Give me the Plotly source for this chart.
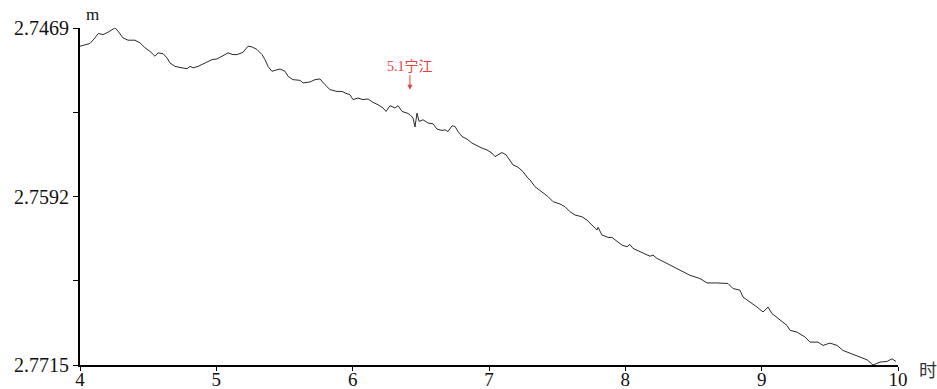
import plotly.graph_objects as go

# time (hours) and water level (m)
hours = [4.000, 4.037, 4.073, 4.110, 4.134, 4.169, 4.205, 4.257, 4.279, 4.315,
         4.352, 4.403, 4.440, 4.477, 4.513, 4.550, 4.572, 4.609, 4.638, 4.660,
         4.697, 4.748, 4.785, 4.807, 4.829, 4.866, 4.917, 4.968, 5.005, 5.042,
         5.086, 5.122, 5.152, 5.196, 5.232, 5.262, 5.298, 5.335, 5.357, 5.379,
         5.408, 5.430, 5.467, 5.504, 5.526, 5.562, 5.614, 5.636, 5.687, 5.724,
         5.760, 5.797, 5.834, 5.885, 5.922, 5.944, 5.980, 6.003, 6.039, 6.076,
         6.113, 6.149, 6.186, 6.223, 6.245, 6.274, 6.311, 6.333, 6.362, 6.399,
         6.421, 6.443, 6.457, 6.472, 6.487, 6.516, 6.553, 6.589, 6.619, 6.655,
         6.677, 6.699, 6.729, 6.751, 6.773, 6.802, 6.839, 6.875, 6.912, 6.949,
         6.985, 7.022, 7.044, 7.066, 7.095, 7.125, 7.154, 7.176, 7.213, 7.249,
         7.286, 7.301, 7.337, 7.389, 7.433, 7.470, 7.521, 7.558, 7.594, 7.631,
         7.682, 7.719, 7.756, 7.792, 7.800, 7.829, 7.851, 7.873, 7.902, 7.939,
         7.976, 8.012, 8.034, 8.056, 8.093, 8.144, 8.181, 8.203, 8.232, 8.306,
         8.401, 8.474, 8.548, 8.599, 8.672, 8.753, 8.790, 8.841, 8.863, 8.915,
         8.966, 9.010, 9.047, 9.076, 9.135, 9.186, 9.208, 9.259, 9.318, 9.355,
         9.413, 9.450, 9.501, 9.553, 9.597, 9.663, 9.721, 9.773, 9.817, 9.868,
         9.919, 9.956, 9.985]

level = [2.74823, 2.74811, 2.74803, 2.74762, 2.74730, 2.74738, 2.74721, 2.74689, 2.74713, 2.74762,
         2.74779, 2.74779, 2.74798, 2.74835, 2.74860, 2.74896, 2.74872, 2.74877, 2.74908, 2.74945,
         2.74970, 2.74981, 2.74987, 2.74970, 2.74981, 2.74970, 2.74945, 2.74921, 2.74916, 2.74896,
         2.74872, 2.74884, 2.74884, 2.74867, 2.74823, 2.74828, 2.74847, 2.74884, 2.74921, 2.74970,
         2.75006, 2.74999, 2.74989, 2.75006, 2.75043, 2.75067, 2.75072, 2.75091, 2.75084, 2.75067,
         2.75062, 2.75104, 2.75140, 2.75153, 2.75153, 2.75164, 2.75177, 2.75213, 2.75201, 2.75213,
         2.75208, 2.75233, 2.75250, 2.75274, 2.75299, 2.75257, 2.75274, 2.75257, 2.75299, 2.75311,
         2.75323, 2.75347, 2.75413, 2.75311, 2.75372, 2.75360, 2.75384, 2.75389, 2.75428, 2.75438,
         2.75433, 2.75446, 2.75404, 2.75409, 2.75446, 2.75482, 2.75501, 2.75530, 2.75550, 2.75567,
         2.75580, 2.75604, 2.75629, 2.75616, 2.75599, 2.75616, 2.75653, 2.75689, 2.75706, 2.75738,
         2.75787, 2.75799, 2.75848, 2.75885, 2.75921, 2.75958, 2.75975, 2.75995, 2.76031, 2.76055,
         2.76068, 2.76092, 2.76129, 2.76165, 2.76145, 2.76202, 2.76209, 2.76219, 2.76219, 2.76244,
         2.76275, 2.76287, 2.76270, 2.76299, 2.76317, 2.76336, 2.76356, 2.76348, 2.76372, 2.76409,
         2.76458, 2.76495, 2.76519, 2.76551, 2.76551, 2.76555, 2.76592, 2.76604, 2.76654, 2.76690,
         2.76727, 2.76763, 2.76727, 2.76775, 2.76824, 2.76861, 2.76897, 2.76910, 2.76946, 2.76983,
         2.76983, 2.77007, 2.76990, 2.77007, 2.77044, 2.77068, 2.77093, 2.77112, 2.77150, 2.77129,
         2.77124, 2.77105, 2.77124]

x_ticks = [4, 5, 6, 7, 8, 9, 10]
y_ticks = [2.7469, 2.7592, 2.7715]
y_tick_labels = ["2.7469", "2.7592", "2.7715"]
y_minor = [2.75305, 2.76535]

event_x = 6.42
event_y = 2.7514
event_label = "5.1宁江"

serif = "Liberation Serif"

fig = go.Figure()
fig.add_trace(go.Scatter(x=hours, y=level, mode="lines",
                         line=dict(color="#2a2a2a", width=1), hoverinfo="skip"))

fig.update_layout(
    width=937, height=389,
    margin=dict(l=80, r=39, t=28, b=24),
    paper_bgcolor="white", plot_bgcolor="white",
    showlegend=False,
    font=dict(family=serif, size=20, color="#111"),
    xaxis=dict(range=[4, 10], tickvals=x_ticks, ticktext=[str(v) for v in x_ticks],
               automargin=False,
               showgrid=False, zeroline=False, showline=True, linecolor="black",
               linewidth=2, ticks="outside", ticklen=4, tickwidth=1, tickcolor="black",
               ticklabelstandoff=-8,
               tickfont=dict(family=serif, size=19, color="#111")),
    yaxis=dict(range=[2.7715, 2.7469], tickvals=y_ticks, ticktext=y_tick_labels,
               automargin=False,
               showgrid=False, zeroline=False, showline=True, linecolor="black",
               linewidth=2, ticks="outside", ticklen=5, tickwidth=1, tickcolor="black",
               tickfont=dict(family=serif, size=20, color="#111"),
               minor=dict(tickvals=y_minor, ticks="outside", ticklen=5,
                          tickcolor="black", tickwidth=1)),
)

fig.add_annotation(x=event_x, y=event_y, text=event_label, showarrow=True,
                   ax=0, ay=-24, arrowhead=2, arrowsize=1, arrowwidth=1,
                   arrowcolor="#e8413b",
                   font=dict(family="Liberation Serif, Noto Sans CJK SC", size=14, color="#e8413b"))
fig.add_annotation(xref="paper", yref="paper", x=0.005, y=1.0, yshift=14,
                   text="m", showarrow=False, xanchor="left", yanchor="middle",
                   font=dict(family=serif, size=17, color="#111"))
fig.add_annotation(xref="paper", yref="paper", x=1.0, y=0.0, xshift=30, yshift=-4,
                   text="时", showarrow=False, xanchor="center", yanchor="middle",
                   font=dict(family="Noto Sans CJK SC", size=18, color="#333"))

fig.write_html("out.html")
